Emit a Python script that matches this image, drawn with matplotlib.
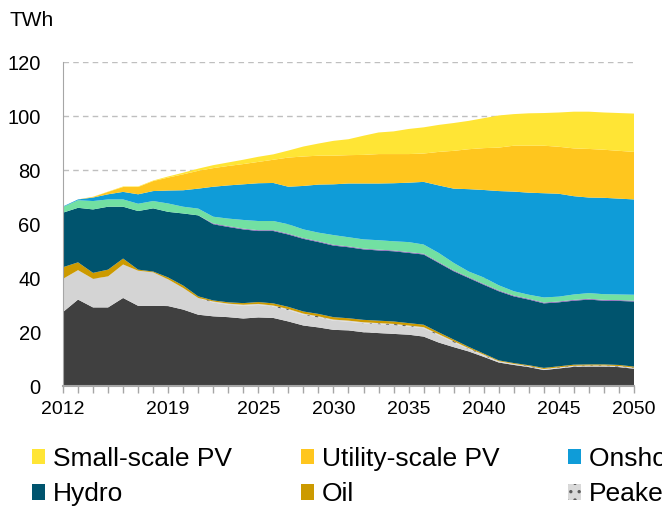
import matplotlib
matplotlib.use('Agg')
import matplotlib.pyplot as plt

plt.rcParams['font.family'] = ['Liberation Sans', 'DejaVu Sans']
plt.rcParams['hatch.linewidth'] = 1.2

# Datos (TWh), un valor por año 2012-2050
years = list(range(2012, 2051))
label_years = [2012, 2019, 2025, 2030, 2035, 2040, 2045, 2050]

coal = [27.4, 32.0, 29.1, 29.1, 32.6, 29.7, 29.7, 29.6, 28.3, 26.4,
        25.8, 25.5, 25.0, 25.4, 25.2, 23.9, 22.4, 21.7, 20.8, 20.6,
        19.9, 19.6, 19.3, 19.0, 18.3, 16.1, 14.4, 12.8, 10.8, 8.7,
        7.8, 7.0, 5.9, 6.5, 7.1, 7.2, 7.2, 7.0, 6.4]
gas = [12.3, 10.9, 10.6, 11.5, 12.4, 13.0, 12.4, 9.9, 8.0, 6.2,
       5.1, 4.6, 4.7, 4.6, 4.2, 4.2, 4.0, 3.7, 3.4, 3.2,
       3.3, 3.3, 3.3, 3.0, 3.1, 2.7, 1.8, 0.8, 0.4, 0.3,
       0.2, 0.2, 0.2, 0.2, 0.2, 0.2, 0.2, 0.2, 0.2]
peaker = [0.0] * 10 + [0.4] * 19 + [0.2] * 10
oil = [4.3, 2.9, 2.2, 2.5, 2.2, 0.4, 0.3, 0.7, 0.9, 0.6,
       0.4, 0.5, 0.6, 0.7, 0.8, 0.8, 0.8, 0.9, 0.9, 0.9,
       0.9, 0.9, 0.9, 0.9, 0.9, 0.7, 0.6, 0.5, 0.4, 0.3,
       0.3, 0.3, 0.4, 0.4, 0.4, 0.4, 0.4, 0.4, 0.4]
hydro = [20.2, 20.2, 23.5, 23.3, 19.2, 21.7, 23.4, 24.3, 26.7, 30.0,
         28.2, 27.9, 27.3, 26.3, 26.8, 26.8, 26.9, 26.6, 26.5, 26.3,
         26.1, 26.0, 26.0, 26.0, 26.0, 25.7, 25.3, 25.5, 25.5, 25.6,
         24.7, 24.3, 23.9, 23.7, 23.7, 24.0, 23.6, 23.7, 24.1]
geothermal = [0.0] * 10 + [0.3] * 29
biomass = [2.1, 2.8, 3.1, 2.7, 2.7, 2.7, 2.7, 3.1, 2.5, 2.5,
           2.5, 2.8, 3.2, 3.4, 3.4, 3.5, 3.2, 3.2, 3.6, 3.4,
           3.4, 3.5, 3.4, 3.7, 3.4, 3.4, 2.8, 2.1, 2.4, 1.9,
           1.6, 1.5, 1.9, 1.8, 2.0, 2.1, 2.1, 2.1, 2.2]
onshore = [0.2, 0.3, 1.3, 1.9, 2.8, 3.5, 3.7, 4.8, 6.1, 7.4,
           11.1, 12.3, 13.2, 14.0, 14.1, 13.9, 16.1, 17.8, 18.8, 19.9,
           20.7, 21.0, 21.5, 22.0, 23.2, 25.0, 27.5, 30.5, 32.4, 34.9,
           36.9, 37.8, 38.6, 38.1, 36.4, 35.4, 35.7, 35.5, 35.3]
utility_pv = [0.0, 0.0, 0.2, 0.9, 1.8, 2.7, 3.7, 4.8, 5.9, 6.6,
              6.9, 7.2, 7.5, 7.9, 8.6, 10.8, 10.9, 10.7, 10.6, 10.5,
              10.6, 10.9, 10.8, 10.6, 10.5, 12.4, 14.0, 14.8, 15.5, 16.1,
              17.0, 17.4, 17.6, 17.4, 17.7, 18.0, 17.8, 17.7, 17.6]
small_pv = [0.0, 0.0, 0.1, 0.1, 0.2, 0.2, 0.2, 0.4, 0.6, 0.8,
            1.1, 1.3, 1.6, 1.9, 2.0, 2.6, 3.7, 4.5, 5.5, 5.9,
            7.1, 8.0, 8.4, 9.3, 9.7, 10.0, 10.3, 10.5, 11.1, 11.9,
            11.7, 12.0, 12.1, 12.7, 13.6, 13.8, 13.8, 14.0, 14.2]

names = ['Coal', 'Gas', 'Peaker', 'Oil', 'Hydro', 'Geothermal', 'Biomass',
         'Onshore wind', 'Utility-scale PV', 'Small-scale PV']
colores = ['#404040', '#D4D4D4', '#D9D9D9', '#CC9A00', '#00546E', '#8A5CB8',
           '#72E0A2', '#0F9CD8', '#FFC61E', '#FFE535']

fig = plt.figure(figsize=(6.62, 5.08), dpi=100)
ax = fig.add_axes([63/662, 1-386/508, (634-63)/662, (386-62)/508])

capas = ax.stackplot(years, coal, gas, peaker, oil, hydro, geothermal, biomass,
                     onshore, utility_pv, small_pv, colors=colores,
                     labels=names, linewidth=0, zorder=2)
# peaker con puntos
capas[2].set_hatch('..')
capas[2].set_edgecolor('#595959')
capas[2].set_linewidth(0)

ax.set_xlim(2012, 2050)
ax.set_ylim(0, 120)
ax.set_yticks(range(0, 121, 20))
ax.yaxis.grid(True, linestyle=(0, (4, 3)), color='#BFBFBF', linewidth=1)
ax.set_axisbelow(True)

ax.set_xticks(years)
ax.set_xticklabels([str(y) if y in label_years else '' for y in years])
ax.tick_params(axis='x', direction='out', length=5, color='#A6A6A6',
               width=1, pad=6, labelsize=14)
ax.tick_params(axis='y', length=0, pad=16, labelsize=14.5)

for s in ['top', 'right']:
    ax.spines[s].set_visible(False)
ax.spines['left'].set_color('#A6A6A6')
ax.spines['bottom'].set_color('#A6A6A6')
ax.spines['bottom'].set_linewidth(1.5)

fig.text(9/662, 1-20/508, 'TWh', fontsize=15, va='center', ha='left')

# leyenda (se corta por la derecha, como en el original)
orden = [9, 4, 8, 3, 7, 2, 6, 1, 5, 0]
fig.legend([capas[i] for i in orden], [names[i] for i in orden],
           ncol=5, loc='upper left', bbox_to_anchor=(32/662, 1-447/508),
           frameon=False, fontsize=19, handlelength=0.5, handleheight=0.5,
           handletextpad=0.3, columnspacing=2.6, labelspacing=0.43,
           borderaxespad=0, borderpad=0)

fig.savefig('out.png', dpi=100)
